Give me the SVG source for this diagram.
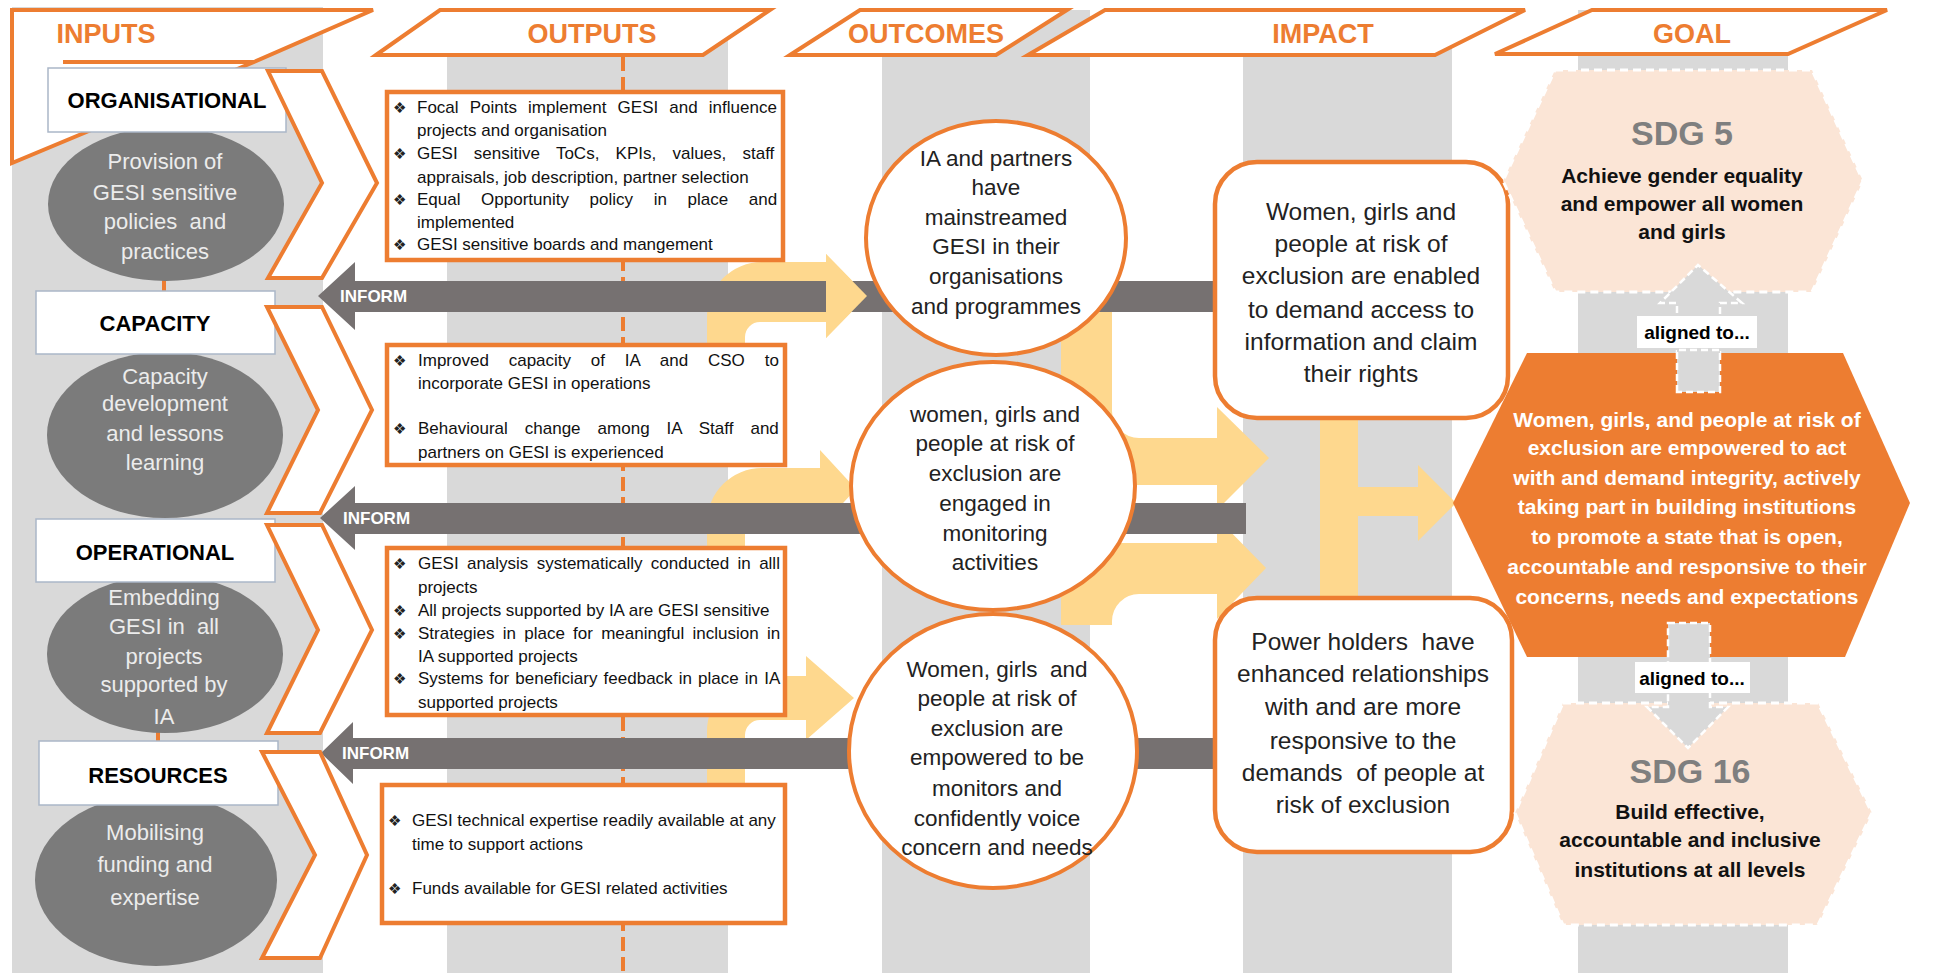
<svg xmlns="http://www.w3.org/2000/svg" width="1935" height="973" viewBox="0 0 1935 973">
<defs>
<style>
text{font-family:'Liberation Sans',Arial,sans-serif}
.band{fill:#d9d9d9}
.hdr{fill:#fff;stroke:#ED7D31;stroke-width:4}
.hdrt{font-weight:bold;font-size:27px;fill:#ED7D31;text-anchor:middle}
.chev{fill:#fff;stroke:#ED7D31;stroke-width:4}
.lbl{fill:#fff;stroke:#aab7c8;stroke-width:1.5}
.lblt{font-weight:bold;font-size:22px;fill:#000;text-anchor:middle}
.ell{fill:#7b7b7b}
.ellt{fill:#ececec;font-size:22px;text-anchor:middle}
.obox{fill:#fff;stroke:#ED7D31;stroke-width:4.5}
.ot{font-size:17px;fill:#111}
.bul{font-family:'DejaVu Sans',sans-serif;font-size:15px;fill:#222}
.inf{fill:#767171}
.inft{fill:#fff;font-weight:bold;font-size:17px}
.yel{fill:#FED88E}
.circ{fill:#fff;stroke:#ED7D31;stroke-width:4}
.ct{font-size:22.5px;fill:#222;text-anchor:middle}
.ibox{fill:#fff;stroke:#ED7D31;stroke-width:4.5}
.it{font-size:24.5px;fill:#222;text-anchor:middle}
.sdg{fill:#FBE5D6;stroke:#fff;stroke-width:3;stroke-dasharray:8 5}
.sdgn{font-weight:bold;font-size:34px;fill:#7f7f7f;text-anchor:middle}
.sdgt{font-weight:bold;font-size:21px;fill:#111;text-anchor:middle}
.goalt{font-weight:bold;font-size:21px;fill:#fff;text-anchor:middle}
.garr{fill:#d9d9d9;stroke:#fff;stroke-width:2.5;stroke-dasharray:7 4}
.alt{font-weight:bold;font-size:19px;fill:#000;text-anchor:middle}
</style>
</defs>
<rect width="1935" height="973" fill="#fff"/>

<g id="bands">
<rect class="band" x="12" y="7" width="311" height="966"/>
<rect class="band" x="447" y="10" width="281" height="963"/>
<rect class="band" x="882" y="10" width="208" height="963"/>
<rect class="band" x="1243" y="10" width="209" height="963"/>
<rect class="band" x="1578" y="10" width="210" height="963"/>
</g>

<g id="headers">
<polygon class="hdr" points="12,10 373,10 254,62 12,163"/>
<line x1="63" y1="62" x2="254" y2="62" stroke="#ED7D31" stroke-width="4"/>
<text class="hdrt" x="106" y="43">INPUTS</text>
<polygon class="hdr" points="376,55 440,10 770,10 703,55"/>
<text class="hdrt" x="592" y="43">OUTPUTS</text>
<polygon class="hdr" points="790,55 860,10 1067,10 996,55"/>
<text class="hdrt" x="926" y="43">OUTCOMES</text>
<polygon class="hdr" points="1028,55 1105,10 1525,10 1435,55"/>
<text class="hdrt" x="1323" y="43">IMPACT</text>
<polygon class="hdr" points="1495,54 1592,10 1887,10 1788,54"/>
<text class="hdrt" x="1692" y="43">GOAL</text>
</g>

<line id="outputs-axis" x1="623" y1="57" x2="623" y2="973" stroke="#ED7D31" stroke-width="4" stroke-dasharray="14 6"/>

<g id="connectors">
<path class="yel" d="M1061,300 L1061,430 A55,55 0 0 0 1116,485 L1217,485 L1217,510 L1269,458 L1217,407 L1217,438 L1139,438 A27,27 0 0 1 1112,411 L1112,300 Z"/>
<path class="yel" d="M1061,625 L1061,598 A55,55 0 0 1 1116,543 L1217,543 L1217,518 L1266,568 L1217,619 L1217,594 L1139,594 A27,27 0 0 0 1112,621 L1112,625 Z"/>
<path class="yel" d="M1320,418 L1358,418 L1358,487 L1418,487 L1418,465 L1456,503 L1418,541 L1418,516 L1358,516 L1358,598 L1320,598 Z"/>
<path class="yel" d="M707,345 L707,317 A55,55 0 0 1 762,262 L826,262 L826,254 L867,296 L826,338 L826,322 L760,322 A15,15 0 0 0 745,337 L745,345 Z"/>
<path class="yel" d="M707,548 L707,523 A55,55 0 0 1 762,468 L820,468 L820,450 L856,489 L820,528 L820,510 L760,510 A15,15 0 0 0 745,525 L745,548 Z"/>
<path class="yel" d="M707,785 L707,731 A55,55 0 0 1 762,676 L806,676 L806,656 L854,698 L806,740 L806,720 L760,720 A15,15 0 0 0 745,735 L745,785 Z"/>
<g id="inform1"><path class="inf" d="M318,296 L355,262 L355,281 L1220,281 L1220,312 L355,312 L355,330 Z"/><text class="inft" x="340" y="302">INFORM</text></g>
<g id="inform2"><path class="inf" d="M320,518 L355,486 L355,503 L1246,503 L1246,534 L355,534 L355,550 Z"/><text class="inft" x="343" y="524">INFORM</text></g>
<g id="inform3"><path class="inf" d="M321,753 L353,722 L353,738 L1220,738 L1220,769 L353,769 L353,784 Z"/><text class="inft" x="342" y="759">INFORM</text></g>
<path class="yel" d="M826,254 L867,296 L826,338 Z"/>
</g>

<g id="out1">
<rect class="obox" x="387" y="92" width="396" height="168"/>
<text class="bul" x="393" y="113">❖</text>
<text class="ot" x="417" y="113" word-spacing="6.4">Focal Points implement GESI and influence</text>
<text class="ot" x="417" y="136">projects and organisation</text>
<text class="bul" x="393" y="159">❖</text>
<text class="ot" x="417" y="159" word-spacing="11.5">GESI sensitive ToCs, KPIs, values, staff</text>
<text class="ot" x="417" y="183">appraisals, job description, partner selection</text>
<text class="bul" x="393" y="205">❖</text>
<text class="ot" x="417" y="205" word-spacing="15.9">Equal Opportunity policy in place and</text>
<text class="ot" x="417" y="228">implemented</text>
<text class="bul" x="393" y="250">❖</text>
<text class="ot" x="417" y="250">GESI sensitive boards and mangement</text>
</g>

<g id="out2">
<rect class="obox" x="387" y="345" width="398" height="120"/>
<text class="bul" x="393" y="366">❖</text>
<text class="ot" x="418" y="366" word-spacing="15.1">Improved capacity of IA and CSO to</text>
<text class="ot" x="418" y="389">incorporate GESI in operations</text>
<text class="bul" x="393" y="434">❖</text>
<text class="ot" x="418" y="434" word-spacing="12.3">Behavioural change among IA Staff and</text>
<text class="ot" x="418" y="458">partners on GESI is experienced</text>
</g>

<g id="out3">
<rect class="obox" x="387" y="548" width="398" height="167"/>
<text class="bul" x="393" y="569">❖</text>
<text class="ot" x="418" y="569" word-spacing="3.6">GESI analysis systematically conducted in alll</text>
<text class="ot" x="418" y="593">projects</text>
<text class="bul" x="393" y="616">❖</text>
<text class="ot" x="418" y="616">All projects supported by IA are GESI sensitive</text>
<text class="bul" x="393" y="639">❖</text>
<text class="ot" x="418" y="639" word-spacing="3.5">Strategies in place for meaningful inclusion in</text>
<text class="ot" x="418" y="662">IA supported projects</text>
<text class="bul" x="393" y="684">❖</text>
<text class="ot" x="418" y="684" word-spacing="1.4">Systems for beneficiary feedback in place in IA</text>
<text class="ot" x="418" y="708">supported projects</text>
</g>

<g id="out4">
<rect class="obox" x="382" y="785" width="403" height="138"/>
<text class="bul" x="388" y="826">❖</text>
<text class="ot" x="412" y="826">GESI technical expertise readily available at any</text>
<text class="ot" x="412" y="850">time to support actions</text>
<text class="bul" x="388" y="894">❖</text>
<text class="ot" x="412" y="894">Funds available for GESI related activities</text>
</g>

<g id="outcome1">
<ellipse class="circ" cx="996" cy="238" rx="130" ry="117"/>
<text class="ct" x="996" y="166">IA and partners</text>
<text class="ct" x="996" y="195">have</text>
<text class="ct" x="996" y="225">mainstreamed</text>
<text class="ct" x="996" y="254">GESI in their</text>
<text class="ct" x="996" y="284">organisations</text>
<text class="ct" x="996" y="314">and programmes</text>
</g>
<g id="outcome2">
<ellipse class="circ" cx="993" cy="486" rx="142" ry="124"/>
<text class="ct" x="995" y="422">women, girls and</text>
<text class="ct" x="995" y="451">people at risk of</text>
<text class="ct" x="995" y="481">exclusion are</text>
<text class="ct" x="995" y="511">engaged in</text>
<text class="ct" x="995" y="541">monitoring</text>
<text class="ct" x="995" y="570">activities</text>
</g>
<g id="outcome3">
<ellipse class="circ" cx="993" cy="751" rx="144" ry="137"/>
<text class="ct" x="997" y="677" xml:space="preserve">Women, girls  and</text>
<text class="ct" x="997" y="706">people at risk of</text>
<text class="ct" x="997" y="736">exclusion are</text>
<text class="ct" x="997" y="765">empowered to be</text>
<text class="ct" x="997" y="796">monitors and</text>
<text class="ct" x="997" y="826">confidently voice</text>
<text class="ct" x="997" y="855">concern and needs</text>
</g>

<g id="impact1">
<rect class="ibox" x="1215" y="162" width="293" height="256" rx="42"/>
<text class="it" x="1361" y="220">Women, girls and</text>
<text class="it" x="1361" y="252">people at risk of</text>
<text class="it" x="1361" y="284">exclusion are enabled</text>
<text class="it" x="1361" y="318">to demand access to</text>
<text class="it" x="1361" y="350">information and claim</text>
<text class="it" x="1361" y="382">their rights</text>
</g>
<g id="impact2">
<rect class="ibox" x="1215" y="598" width="297" height="254" rx="42"/>
<text class="it" x="1363" y="650" xml:space="preserve">Power holders  have</text>
<text class="it" x="1363" y="682">enhanced relationships</text>
<text class="it" x="1363" y="715">with and are more</text>
<text class="it" x="1363" y="749">responsive to the</text>
<text class="it" x="1363" y="781" xml:space="preserve">demands  of people at</text>
<text class="it" x="1363" y="813">risk of exclusion</text>
</g>

<g id="sdg5">
<polygon class="sdg" points="1555,70 1812,70 1863,181 1812,292 1555,292 1503,181"/>
<text class="sdgn" x="1682" y="145">SDG 5</text>
<text class="sdgt" x="1682" y="183">Achieve gender equality</text>
<text class="sdgt" x="1682" y="211">and empower all women</text>
<text class="sdgt" x="1682" y="239">and girls</text>
</g>
<g id="up-arrow">
<path class="garr" d="M1677,390 L1677,303 L1660,303 L1698,265 L1742,303 L1720,303 L1720,390 Z"/>
</g>

<g id="goal">
<polygon points="1527,353 1843,353 1910,503 1845,657 1527,657 1453,503" fill="#ED7D31"/>
<path class="garr" d="M1677,392 L1677,350 L1720,350 L1720,392 Z"/>
<text class="goalt" x="1687" y="427">Women, girls, and people at risk of</text>
<text class="goalt" x="1687" y="455">exclusion are empowered to act</text>
<text class="goalt" x="1687" y="485">with and demand integrity, actively</text>
<text class="goalt" x="1687" y="514">taking part in building institutions</text>
<text class="goalt" x="1687" y="544">to promote a state that is open,</text>
<text class="goalt" x="1687" y="574">accountable and responsive to their</text>
<text class="goalt" x="1687" y="604">concerns, needs and expectations</text>
</g>

<g id="sdg16">
<polygon class="sdg" points="1563,703 1818,703 1872,813 1818,925 1563,925 1515,813"/>
<path class="garr" d="M1668,623 L1710,623 L1710,707 L1728,707 L1688,748 L1647,707 L1668,707 Z"/>
<text class="sdgn" x="1690" y="783">SDG 16</text>
<text class="sdgt" x="1690" y="819">Build effective,</text>
<text class="sdgt" x="1690" y="847">accountable and inclusive</text>
<text class="sdgt" x="1690" y="877">institutions at all levels</text>
</g>

<g id="aligned1">
<rect x="1637" y="316" width="120" height="32" fill="#fff"/>
<text class="alt" x="1697" y="339">aligned to...</text>
</g>
<g id="aligned2">
<rect x="1635" y="662" width="115" height="31" fill="#fff"/>
<text class="alt" x="1692" y="685">aligned to...</text>
</g>

<g id="in-org">
<line x1="164" y1="276" x2="164" y2="292" stroke="#ED7D31" stroke-width="4"/>
<ellipse class="ell" cx="166" cy="204" rx="118" ry="77"/>
<rect class="lbl" x="48" y="68" width="238" height="64"/>
<text class="lblt" x="167" y="108" font-size="23">ORGANISATIONAL</text>
<text class="ellt" x="165" y="169" font-size="21">Provision of</text>
<text class="ellt" x="165" y="200" font-size="21">GESI sensitive</text>
<text class="ellt" x="165" y="229" font-size="21" xml:space="preserve">policies  and</text>
<text class="ellt" x="165" y="259" font-size="21">practices</text>
</g>
<g id="in-cap">
<ellipse class="ell" cx="165" cy="435" rx="118" ry="83"/>
<rect class="lbl" x="36" y="291" width="239" height="63"/>
<text class="lblt" x="155" y="331">CAPACITY</text>
<text class="ellt" x="165" y="384">Capacity</text>
<text class="ellt" x="165" y="411">development</text>
<text class="ellt" x="165" y="441">and lessons</text>
<text class="ellt" x="165" y="470">learning</text>
</g>
<g id="in-op">
<line x1="158" y1="728" x2="158" y2="742" stroke="#ED7D31" stroke-width="4"/>
<ellipse class="ell" cx="165" cy="654" rx="118" ry="79"/>
<rect class="lbl" x="36" y="519" width="239" height="63"/>
<text class="lblt" x="155" y="560">OPERATIONAL</text>
<text class="ellt" x="164" y="605">Embedding</text>
<text class="ellt" x="164" y="634" xml:space="preserve">GESI in  all</text>
<text class="ellt" x="164" y="664">projects</text>
<text class="ellt" x="164" y="692">supported by</text>
<text class="ellt" x="164" y="724">IA</text>
</g>
<g id="in-res">
<ellipse class="ell" cx="156" cy="880" rx="121" ry="86"/>
<rect class="lbl" x="39" y="741" width="239" height="64"/>
<text class="lblt" x="158" y="783">RESOURCES</text>
<text class="ellt" x="155" y="840" font-size="24">Mobilising</text>
<text class="ellt" x="155" y="872" font-size="24">funding and</text>
<text class="ellt" x="155" y="905" font-size="24">expertise</text>
</g>

<g id="chevrons">
<polygon class="chev" points="268,71 322,71 377,183 322,278 268,278 322,183"/>
<polygon class="chev" points="267,307 322,307 372,410 320,513 267,513 318,410"/>
<polygon class="chev" points="267,525 322,525 372,630 320,733 267,733 318,630"/>
<polygon class="chev" points="262,752 320,752 367,855 320,958 262,958 315,855"/>
</g>
</svg>
